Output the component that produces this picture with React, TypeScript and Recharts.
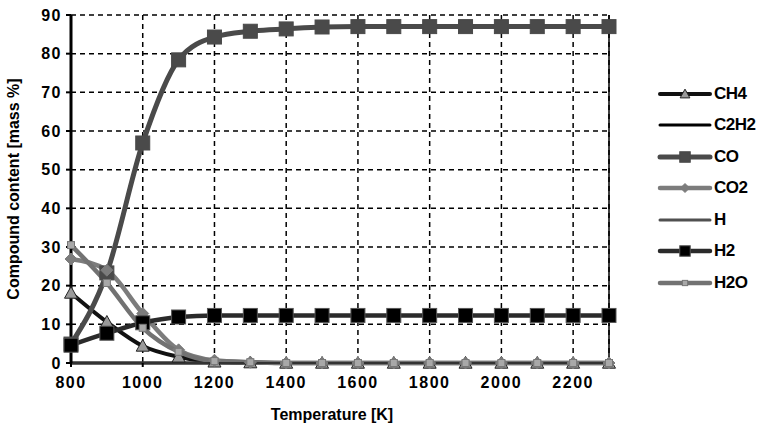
import { LineChart, Line, XAxis, YAxis, CartesianGrid, ReferenceLine } from 'recharts';

const temperatures = [800, 900, 1000, 1100, 1200, 1300, 1400, 1500, 1600, 1700, 1800, 1900, 2000, 2100, 2200, 2300];
const ch4 = [18.1, 10.6, 4.4, 1.6, 0.3, 0.1, 0, 0, 0, 0, 0, 0, 0, 0, 0, 0];
const c2h2 = [0, 0, 0, 0, 0, 0, 0, 0, 0, 0, 0, 0, 0, 0, 0, 0];
const co = [4.9, 23.3, 56.9, 78.4, 84.3, 85.8, 86.4, 86.9, 87, 87, 87, 87, 87, 87, 87, 87];
const co2 = [26.9, 24, 12.8, 3.4, 0.7, 0.2, 0, 0, 0, 0, 0, 0, 0, 0, 0, 0];
const h = [0, 0, 0, 0, 0, 0, 0, 0, 0, 0, 0, 0, 0, 0, 0, 0];
const h2 = [4.6, 7.7, 10.4, 11.9, 12.3, 12.3, 12.3, 12.3, 12.3, 12.3, 12.3, 12.3, 12.3, 12.3, 12.3, 12.3];
const h2o = [30.5, 20.7, 9.1, 2.9, 0.5, 0.2, 0, 0, 0, 0, 0, 0, 0, 0, 0, 0];

const xTicks = [800, 1000, 1200, 1400, 1600, 1800, 2000, 2200];
const yTicks = [0, 10, 20, 30, 40, 50, 60, 70, 80, 90];

const data = temperatures.map((t, i) => ({
  t,
  CH4: ch4[i],
  C2H2: c2h2[i],
  CO: co[i],
  CO2: co2[i],
  H: h[i],
  H2: h2[i],
  H2O: h2o[i],
}));

type Marker = { shape: 'none' | 'triangle' | 'square' | 'diamond'; size: number; fill: string; stroke: string };

const series: { key: string; color: string; width: number; marker: Marker }[] = [
  { key: 'CH4', color: '#111', width: 4, marker: { shape: 'triangle', size: 13, fill: '#9a9a9a', stroke: '#222' } },
  { key: 'C2H2', color: '#000', width: 3, marker: { shape: 'none', size: 0, fill: 'none', stroke: 'none' } },
  { key: 'CO', color: '#4a4a4a', width: 5, marker: { shape: 'square', size: 14, fill: '#4a4a4a', stroke: '#4a4a4a' } },
  { key: 'CO2', color: '#7c7c7c', width: 4.5, marker: { shape: 'diamond', size: 12, fill: '#7c7c7c', stroke: '#7c7c7c' } },
  { key: 'H', color: '#505050', width: 3, marker: { shape: 'none', size: 0, fill: 'none', stroke: 'none' } },
  { key: 'H2', color: '#2a2a2a', width: 4.5, marker: { shape: 'square', size: 14, fill: '#000', stroke: '#555' } },
  { key: 'H2O', color: '#727272', width: 4.5, marker: { shape: 'square', size: 7, fill: '#a8a8a8', stroke: '#777' } },
];

function markerShape(m: Marker, cx: number, cy: number, key?: string) {
  const s = m.size / 2;
  if (m.shape === 'triangle') {
    return <polygon key={key} points={`${cx},${cy - s} ${cx + s},${cy + s * 0.8} ${cx - s},${cy + s * 0.8}`} fill={m.fill} stroke={m.stroke} strokeWidth={1} />;
  }
  if (m.shape === 'square') {
    return <rect key={key} x={cx - s} y={cy - s} width={m.size} height={m.size} fill={m.fill} stroke={m.stroke} strokeWidth={1} />;
  }
  if (m.shape === 'diamond') {
    return <polygon key={key} points={`${cx},${cy - s} ${cx + s},${cy} ${cx},${cy + s} ${cx - s},${cy}`} fill={m.fill} stroke={m.stroke} strokeWidth={1} />;
  }
  return <g key={key} />;
}

const makeDot = (m: Marker) => (props: any) => markerShape(m, props.cx, props.cy, `${props.dataKey}-${props.index}`);

const font = '"Liberation Sans", Arial, sans-serif';
const tickStyle = { fill: '#000', fontSize: 16, fontWeight: 'bold', fontFamily: font, letterSpacing: 1.5 };

function LegendBox() {
  return (
    <div style={{ position: 'absolute', left: 657, top: 78, fontFamily: font, fontWeight: 'bold', fontSize: 17, letterSpacing: -0.5, color: '#000' }}>
      {series.map((s) => (
        <div key={s.key} style={{ display: 'flex', alignItems: 'center', height: 31.5 }}>
          <svg width={56} height={16}>
            <line x1={3} y1={8} x2={53} y2={8} stroke={s.color} strokeWidth={s.width} strokeLinecap="round" />
            {markerShape({ ...s.marker, size: s.marker.size * 0.75 }, 28, 8)}
          </svg>
          <span style={{ marginLeft: 1 }}>{s.key}</span>
        </div>
      ))}
    </div>
  );
}

export default function App() {
  return (
    <div style={{ position: 'absolute', left: 0, top: 0, width: 766, height: 431, background: '#fff' }}>
      <LineChart width={766} height={431} data={data} margin={{ top: 15, right: 157, bottom: 38, left: 11 }}>
        <CartesianGrid stroke="#000" strokeWidth={1.5} strokeDasharray="5 4" />
        <XAxis
          dataKey="t"
          type="number"
          domain={[800, 2300]}
          ticks={xTicks}
          height={30}
          axisLine={{ stroke: '#333', strokeWidth: 2 }}
          tickLine={{ stroke: '#000', strokeWidth: 2 }}
          tickSize={4}
          tickMargin={10}
          tick={tickStyle}
          label={{ value: 'Temperature [K]', position: 'insideBottom', offset: -27, dx: -8, fill: '#000', fontSize: 16, fontWeight: 'bold', fontFamily: font }}
        />
        <YAxis
          type="number"
          domain={[0, 90]}
          ticks={yTicks}
          width={60}
          axisLine={{ stroke: '#000', strokeWidth: 3 }}
          tickLine={{ stroke: '#000', strokeWidth: 2 }}
          tickSize={5}
          tickMargin={4}
          tick={tickStyle}
          label={{ value: 'Compound content [mass %]', angle: -90, position: 'insideLeft', offset: 0, dx: 2, fill: '#000', fontSize: 16, fontWeight: 'bold', fontFamily: font, style: { textAnchor: 'middle' } }}
        />
        <ReferenceLine x={2300} stroke="#000" strokeWidth={1.5} />
        {series.map((s) => (
          <Line
            key={s.key}
            dataKey={s.key}
            type="monotone"
            stroke={s.color}
            strokeWidth={s.width}
            dot={s.marker.shape === 'none' ? false : makeDot(s.marker)}
            activeDot={false}
            isAnimationActive={false}
          />
        ))}
      </LineChart>
      <LegendBox />
    </div>
  );
}
